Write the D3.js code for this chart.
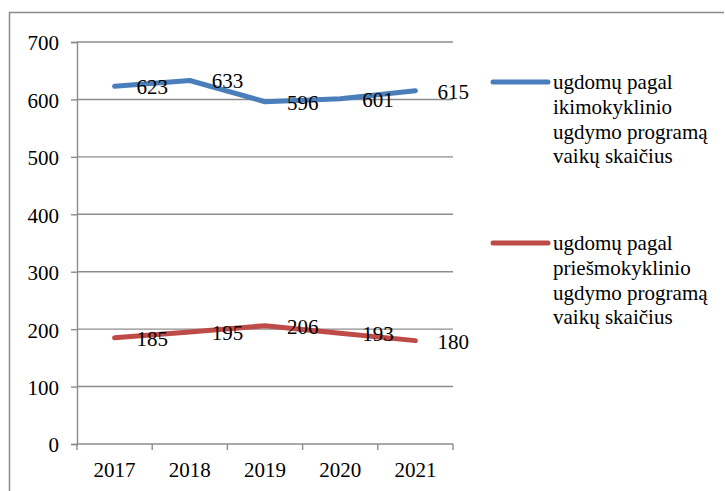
<!DOCTYPE html>
<html>
<head>
<meta charset="utf-8">
<script src="https://cdn.jsdelivr.net/npm/d3@7"></script>
<style>
  body { margin: 0; background: #fff; }
  svg text { font-family: "Liberation Serif", "Times New Roman", serif !important; fill: #000; }
</style>
</head>
<body>
<div id="painting"></div>
<script>
// chart data
var years = ["2017", "2018", "2019", "2020", "2021"];
var ikimokyklinio = [623, 633, 596, 601, 615];
var priesmokyklinio = [185, 195, 206, 193, 180];
var yTicks = [0, 100, 200, 300, 400, 500, 600, 700];
var seriesNames = [
  ["ugdomų pagal", "ikimokyklinio", "ugdymo programą", "vaikų skaičius"],
  ["ugdomų pagal", "priešmokyklinio", "ugdymo programą", "vaikų skaičius"]
];
var colours = ["#4a7ebb", "#be4b48"];

var W = 725, H = 491;
var plot = {left: 77, right: 453, top: 42, bottom: 444};
var serif = "'Liberation Serif', 'Times New Roman', serif";
var fs = 21;

var svg = d3.select("#painting").append("svg")
  .attr("width", W).attr("height", H)
  .style("font-family", serif);

// outer frame (only top and left visible)
svg.append("path")
  .attr("d", "M9.5,491 L9.5,12.5 L724,12.5")
  .attr("fill", "none").attr("stroke", "#8a8a8a").attr("stroke-width", 1.5);

var xScale = d3.scaleBand().domain(years).range([plot.left, plot.right]);
var yScale = d3.scaleLinear().domain([0, 700]).range([plot.bottom, plot.top]);

// gridlines
svg.append("g").selectAll("line")
  .data(yTicks.slice(1))
  .enter().append("line")
  .attr("x1", plot.left).attr("x2", plot.right)
  .attr("y1", function(d){ return yScale(d); })
  .attr("y2", function(d){ return yScale(d); })
  .attr("stroke", "#8c8c8c").attr("stroke-width", 1.4);

// y axis
var yAxis = d3.axisLeft(yScale).tickValues(yTicks).tickSize(6).tickPadding(12);
var gy = svg.append("g").attr("transform", "translate(" + plot.left + ",0)").call(yAxis);
gy.attr("font-family", null).attr("font-size", null);
gy.selectAll("line, path").attr("stroke", "#8c8c8c").attr("stroke-width", 1.4);
gy.selectAll("text").style("font-family", serif).style("font-size", fs + "px").attr("dy", "0.38em");

// x axis (ticks at band boundaries)
var gx = svg.append("g").attr("transform", "translate(0," + plot.bottom + ")");
gx.append("line").attr("x1", plot.left).attr("x2", plot.right)
  .attr("stroke", "#8c8c8c").attr("stroke-width", 1.4);
var bounds = years.map(function(d){ return xScale(d); }).concat([plot.right]);
gx.selectAll(".tk").data(bounds).enter().append("line")
  .attr("class", "tk")
  .attr("x1", function(d){ return d; }).attr("x2", function(d){ return d; })
  .attr("y1", 0).attr("y2", 6)
  .attr("stroke", "#8c8c8c").attr("stroke-width", 1.4);
gx.selectAll("text").data(years).enter().append("text")
  .attr("x", function(d){ return xScale(d) + xScale.bandwidth() / 2; })
  .attr("y", 33)
  .attr("text-anchor", "middle")
  .style("font-family", serif).style("font-size", fs + "px")
  .text(function(d){ return d; });

var cx = function(d, i){ return xScale(years[i]) + xScale.bandwidth() / 2; };
var line = d3.line()
  .x(function(d, i){ return cx(d, i); })
  .y(function(d){ return yScale(d); });

[ikimokyklinio, priesmokyklinio].forEach(function(series, s){
  svg.append("path")
    .datum(series)
    .attr("d", line)
    .attr("fill", "none")
    .attr("stroke", colours[s])
    .attr("stroke-width", 5)
    .attr("stroke-linecap", "round")
    .attr("stroke-linejoin", "round");

  svg.append("g").selectAll("text")
    .data(series)
    .enter().append("text")
    .attr("x", function(d, i){ return cx(d, i) + 22; })
    .attr("y", function(d){ return yScale(d) + 8; })
    .style("font-family", serif).style("font-size", fs + "px")
    .text(function(d){ return d; });
});

// legend
var legendY = [82, 243];
seriesNames.forEach(function(lines, s){
  var g = svg.append("g");
  g.append("line")
    .attr("x1", 493).attr("x2", 548)
    .attr("y1", legendY[s]).attr("y2", legendY[s])
    .attr("stroke", colours[s]).attr("stroke-width", 5)
    .attr("stroke-linecap", "round");
  g.selectAll("text").data(lines).enter().append("text")
    .attr("x", 553)
    .attr("y", function(d, i){ return legendY[s] + 7 + i * 24.8; })
    .style("font-family", serif).style("font-size", fs + "px")
    .text(function(d){ return d; });
});
</script>
</body>
</html>
